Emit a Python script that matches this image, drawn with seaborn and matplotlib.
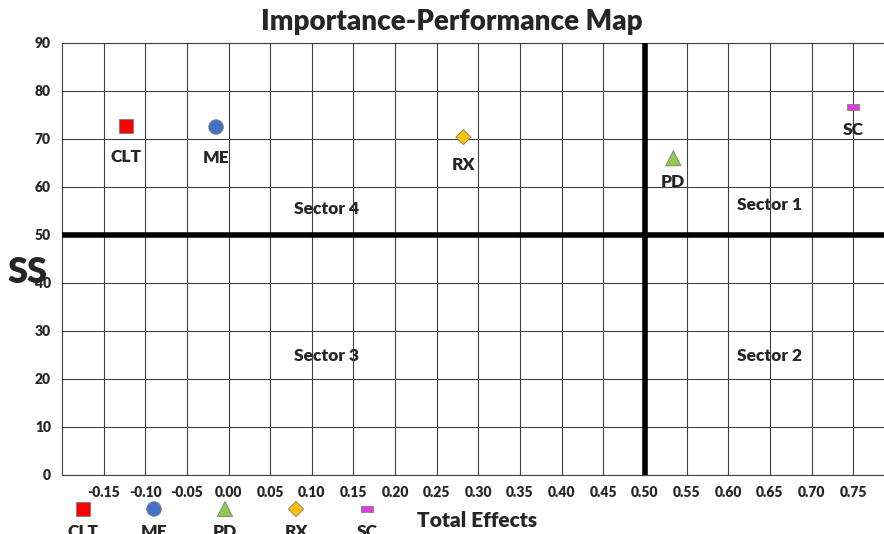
import numpy as np
import pandas as pd
import matplotlib
matplotlib.use("Agg")
import matplotlib.pyplot as plt
import seaborn as sns

# constructs and their importance (total effects) / performance (SS)
names = ["CLT", "ME", "PD", "RX", "SC"]
total_effects = [-0.123, -0.015, 0.534, 0.282, 0.750]
ss_values = [72.7, 72.5, 66.0, 70.4, 76.7]

x_ticks = np.round(np.arange(-0.15, 0.76, 0.05), 2)
y_ticks = list(range(0, 91, 10))

sectors = ["Sector 1", "Sector 2", "Sector 3", "Sector 4"]
sector_x = [0.649, 0.649, 0.117, 0.117]
sector_y = [56.2, 24.8, 24.8, 55.4]

colors = {"CLT": "#FF0000", "ME": "#4472C4", "PD": "#8DCB4F",
          "RX": "#FFC000", "SC": "#E03CE0"}
rect = [(-1, -0.5), (1, -0.5), (1, 0.5), (-1, 0.5), (-1, -0.5)]
markers = {"CLT": "s", "ME": "o", "PD": "^", "RX": "D", "SC": rect}
sizes = {"CLT": 110, "ME": 110, "PD": 120, "RX": 60, "SC": 80}
label_offset = {"CLT": -22, "ME": -22, "PD": -17, "RX": -20, "SC": -17}

sns.set_style("white")
plt.rcParams["font.family"] = ["Lato", "DejaVu Sans"]
plt.rcParams["font.weight"] = "heavy"
W = "heavy"

df = pd.DataFrame({"name": names, "te": total_effects, "ss": ss_values})

fig = plt.figure(figsize=(8.84, 5.34), dpi=100)
ax = fig.add_axes([62 / 884, 59 / 534, 1 - 62 / 884, 432 / 534])

sns.scatterplot(data=df, x="te", y="ss", hue="name", style="name", size="name",
                palette=colors, markers=markers, sizes=sizes,
                edgecolor="#7f7f7f", linewidth=0.6, legend=False, ax=ax, zorder=5)

ax.set_xlim(-0.20, 0.787)
ax.set_ylim(0, 90)
ax.set_xticks(x_ticks)
ax.set_xticklabels([f"{v:.2f}" for v in x_ticks], fontsize=10, fontweight=W)
ax.set_yticks(y_ticks)
ax.set_yticklabels(y_ticks, fontsize=10, fontweight=W)
ax.tick_params(length=0, pad=8)
ax.grid(True, color="#404040", lw=0.8)
for s in ["left", "bottom", "top"]:
    ax.spines[s].set_color("#404040")
    ax.spines[s].set_linewidth(0.8)
ax.spines["right"].set_visible(False)
ax.set_xlabel("")
ax.set_ylabel("")

ax.axhline(50, color="black", lw=4, zorder=3)
ax.axvline(0.50, color="black", lw=4, zorder=3)

for n, xv, yv in zip(names, total_effects, ss_values):
    ax.annotate(n, (xv, yv), xytext=(0, label_offset[n]), textcoords="offset points",
                ha="center", va="center", fontsize=12.5, fontweight=W, zorder=6)

for s, xv, yv in zip(sectors, sector_x, sector_y):
    ax.text(xv, yv, s, ha="center", va="center", fontsize=12.5, fontweight=W)

fig.text(0.511, 0.958, "Importance-Performance Map", ha="center", va="center",
         fontsize=20, fontweight=W)
fig.text(0.031, 0.49, "SS", ha="center", va="center", fontsize=26, fontweight=W)
fig.text(0.54, 0.026, "Total Effects", ha="center", va="center",
         fontsize=15, fontweight=W)

# legend row below the axis: markers above their names
lax = fig.add_axes([0, 0, 1, 54 / 534])
lax.set_xlim(-83 / 71, (884 - 83) / 71)
lax.set_ylim(0, 1)
lax.axis("off")
leg_df = pd.DataFrame({"name": names, "pos": range(len(names)), "row": 0.463})
sns.scatterplot(data=leg_df, x="pos", y="row", hue="name", style="name", size="name",
                palette=colors, markers=markers, sizes=sizes,
                edgecolor="#7f7f7f", linewidth=0.6, legend=False, ax=lax)
lax.set_xlabel("")
lax.set_ylabel("")
for i, n in enumerate(names):
    lax.text(i, 0.03, n, ha="center", va="center", fontsize=12.5, fontweight=W)

fig.savefig("out.png", dpi=100)
